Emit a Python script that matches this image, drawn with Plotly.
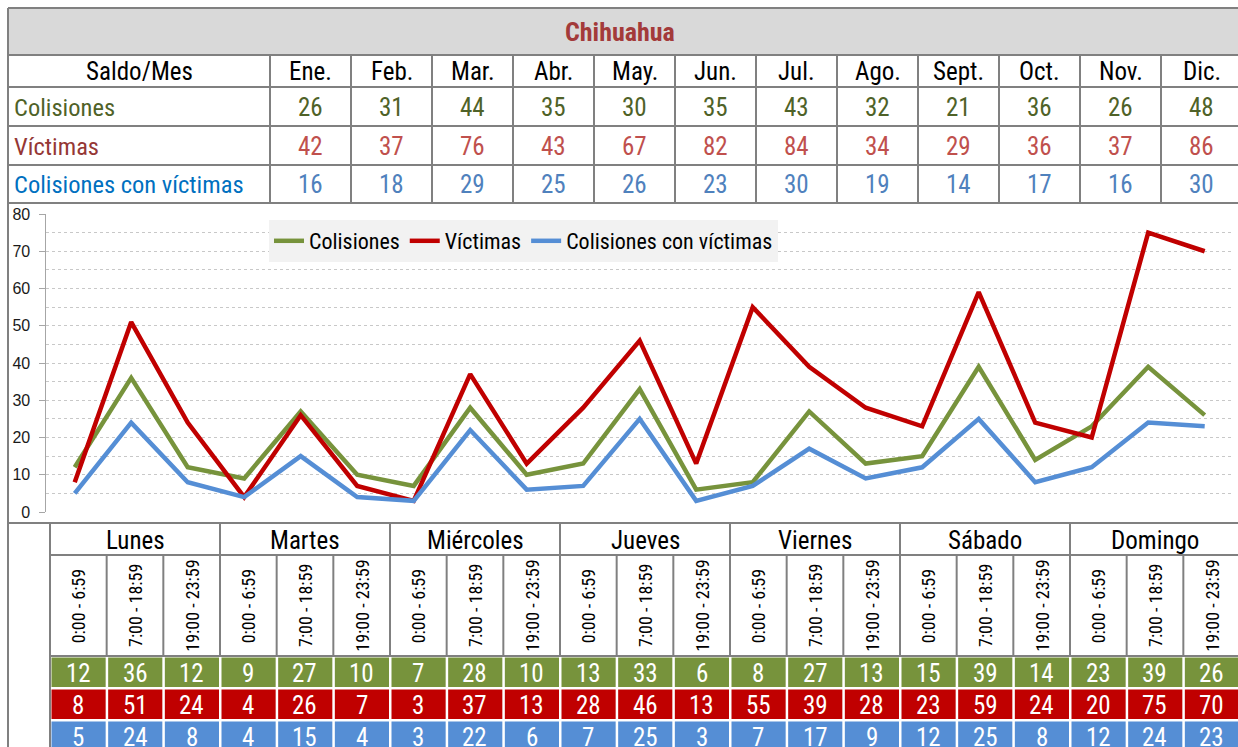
import plotly.graph_objects as go

# ---------------- data ----------------
titulo = "Chihuahua"
meses = ["Ene.", "Feb.", "Mar.", "Abr.", "May.", "Jun.", "Jul.", "Ago.", "Sept.", "Oct.", "Nov.", "Dic."]
colisiones_mes = [26, 31, 44, 35, 30, 35, 43, 32, 21, 36, 26, 48]
victimas_mes = [42, 37, 76, 43, 67, 82, 84, 34, 29, 36, 37, 86]
ccv_mes = [16, 18, 29, 25, 26, 23, 30, 19, 14, 17, 16, 30]

dias = ["Lunes", "Martes", "Miércoles", "Jueves", "Viernes", "Sábado", "Domingo"]
franjas = ["0:00 - 6:59", "7:00 - 18:59", "19:00 - 23:59"]
colisiones_fr = [12, 36, 12, 9, 27, 10, 7, 28, 10, 13, 33, 6, 8, 27, 13, 15, 39, 14, 23, 39, 26]
victimas_fr = [8, 51, 24, 4, 26, 7, 3, 37, 13, 28, 46, 13, 55, 39, 28, 23, 59, 24, 20, 75, 70]
ccv_fr = [5, 24, 8, 4, 15, 4, 3, 22, 6, 7, 25, 3, 7, 17, 9, 12, 25, 8, 12, 24, 23]

series_names = ["Colisiones", "Víctimas", "Colisiones con víctimas"]
y_ticks = [0, 10, 20, 30, 40, 50, 60, 70, 80]

# ---------------- style ----------------
W, H = 1238, 747
NARROW = "Roboto Condensed, Liberation Sans Narrow, Arial Narrow, sans-serif"
REG = "Liberation Sans, Arial, sans-serif"
GRAY = "#808080"
line_cols = ["#77933c", "#c00000", "#558ed5"]
label_cols = ["#4f6228", "#953735", "#0070c0"]
num_cols = ["#4f6228", "#c0504d", "#4f81bd"]


def px(x):
    return x / W


def py(y):
    return 1 - y / H


fig = go.Figure()

cats = list(range(len(colisiones_fr)))
for name, vals, col in zip(series_names, [colisiones_fr, victimas_fr, ccv_fr], line_cols):
    fig.add_trace(go.Scatter(x=cats, y=vals, mode="lines", name=name,
                             line=dict(color=col, width=4.5)))

shapes = []
ann = []


def hline(y, x0, x1, color=GRAY, w=2):
    shapes.append(dict(type="line", xref="paper", yref="paper", x0=px(x0), x1=px(x1),
                       y0=py(y), y1=py(y), line=dict(color=color, width=w)))


def vline(x, y0, y1, color=GRAY, w=2):
    shapes.append(dict(type="line", xref="paper", yref="paper", x0=px(x), x1=px(x),
                       y0=py(y0), y1=py(y1), line=dict(color=color, width=w)))


def text(x, y, t, size, color, font=NARROW, xanchor="center", angle=0, bold=False):
    ann.append(dict(xref="paper", yref="paper", x=px(x), y=py(y), text=("<b>%s</b>" % t) if bold else t,
                    showarrow=False, xanchor=xanchor, yanchor="middle", textangle=angle,
                    font=dict(family=font, size=size, color=color)))


# ---------- top table ----------
LEFT = 8
RIGHT = 1242
shapes.append(dict(type="rect", xref="paper", yref="paper", x0=px(LEFT), x1=px(RIGHT),
                   y0=py(55), y1=py(8), fillcolor="#d9d9d9", line=dict(width=0), layer="below"))
row_y = [8, 55, 87, 126, 165, 203]
for y in row_y:
    hline(y, LEFT, RIGHT)
vline(LEFT, 8, 747)
MX0, MW = 270, 81
for k in range(len(meses) + 1):
    vline(MX0 + MW * k, 55, 203)

text(620, 32, titulo, 26, "#a33a3a", bold=True)
text(139, 72, "Saldo/Mes", 25, "black")
for k, m in enumerate(meses):
    cx = MX0 + MW * k + MW / 2
    text(cx, 72, m, 25, "black")
row_c = [107, 146, 185]
for r, (lab, vals) in enumerate(zip(series_names, [colisiones_mes, victimas_mes, ccv_mes])):
    text(12, row_c[r], lab, 24.5, label_cols[r], xanchor="left")
    for k, v in enumerate(vals):
        text(MX0 + MW * k + MW / 2, row_c[r], str(v), 25, num_cols[r])

# ---------- chart border ----------
hline(523, LEFT, RIGHT)

# ---------- bottom table ----------
BX0 = 50
BW = (1240 - 50) / 21
hline(555, BX0, RIGHT)
hline(656, BX0, RIGHT)
vline(BX0, 523, 747)
for c in range(22):
    x = BX0 + BW * c
    if c % 3 == 0:
        vline(x, 523, 656)
    else:
        vline(x, 555, 656)
for d, dia in enumerate(dias):
    text(BX0 + BW * (3 * d + 1.5), 540, dia, 25, "black")
for c in range(21):
    text(BX0 + BW * (c + 0.5), 606, franjas[c % 3], 18, "black", angle=-90)

data_rows = [(656, 688), (688, 720), (720, 752)]
for r, vals in enumerate([colisiones_fr, victimas_fr, ccv_fr]):
    y0, y1 = data_rows[r]
    for c, v in enumerate(vals):
        xa = BX0 + BW * c
        shapes.append(dict(type="rect", xref="paper", yref="paper", x0=px(xa + 1.5), x1=px(xa + BW - 1),
                           y0=py(y1 - 1), y1=py(y0 + 1.5), fillcolor=line_cols[r], line=dict(width=0)))
        text(xa + BW / 2, (y0 + y1) / 2 + 1, str(v), 25, "white")

# ---------- layout ----------
PT0 = 74.7
SP = 56.5
fig.update_layout(
    width=W, height=H, margin=dict(l=0, r=0, t=0, b=0, autoexpand=False),
    paper_bgcolor="white", plot_bgcolor="white",
    shapes=shapes, annotations=ann,
    showlegend=True,
    legend=dict(orientation="h", x=px(269), y=py(220), xanchor="left", yanchor="top",
                bgcolor="#f2f2f2", font=dict(family=NARROW, size=22, color="black"),
                itemwidth=30, tracegroupgap=0, traceorder="normal"),
    xaxis=dict(domain=[px(PT0 - SP / 2), px(PT0 + SP * 20.5)], range=[-0.5, 20.5],
               showticklabels=False, showgrid=False, zeroline=False, showline=False),
    yaxis=dict(domain=[py(512), py(214)], range=[0, 80], tickvals=y_ticks,
               showgrid=True, gridcolor="#c8c8c8", griddash="dot", gridwidth=1,
               minor=dict(dtick=5, tick0=0, showgrid=True, gridcolor="#c8c8c8", griddash="dot", gridwidth=1),
               zeroline=False, showline=True, linecolor="#a6a6a6", linewidth=1,
               ticks="outside", ticklen=6, tickcolor="#a6a6a6", ticklabelstandoff=6,
               tickfont=dict(family=REG, size=16, color="#1a1a1a")),
)

fig.write_html("out.html", config={"displayModeBar": False},
               post_script="document.body.style.margin='0px';")
